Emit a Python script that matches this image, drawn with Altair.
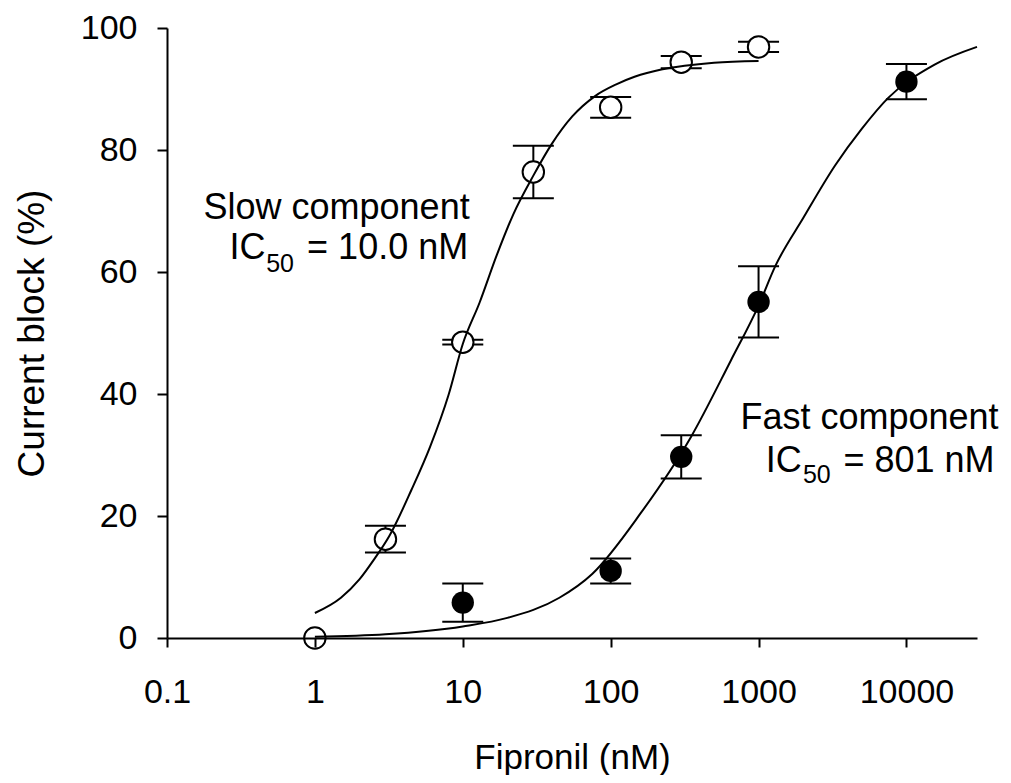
import altair as alt
import pandas as pd

FONT = "Liberation Sans"

# ---- measured data (Fipronil concentration in nM, current block in %) ----
slow_conc = [1, 3, 10, 30, 100, 300, 1000]
slow_block = [0.0, 16.2, 48.5, 76.4, 87.0, 94.4, 96.9]
slow_err = [0.0, 2.2, 0.4, 4.3, 1.7, 1.0, 0.85]

fast_conc = [10, 100, 300, 1000, 10000]
fast_block = [5.8, 11.0, 29.7, 55.1, 91.2]
fast_err = [3.15, 2.05, 3.55, 5.85, 2.9]

# ---- fitted curves ----
slow_curve_x = [1, 1.5, 2, 2.5, 3.2, 4.5, 6, 8, 10, 13, 17, 22, 30, 40, 55, 78,
                110, 145, 220, 316, 500, 1000]
slow_curve_y = [4.1, 6.6, 9.6, 12.8, 16.8, 24.3, 31.3, 39.8, 48.2, 55.0, 62.8, 69.5,
                75.8, 81.0, 85.5, 88.8, 90.8, 92.0, 93.2, 93.8, 94.3, 94.6]

fast_curve_x = [1, 3, 10, 20, 45, 75, 160, 350, 650, 1000, 1300, 2000, 3300, 5000,
                7500, 15500, 30000]
fast_curve_y = [0.2, 0.6, 1.9, 3.3, 6.6, 10.5, 20.5, 33.0, 45.5, 54.5, 61.0, 68.8,
                77.5, 83.5, 88.5, 94.0, 96.9]

# ---- axis ticks ----
x_ticks = [0.1, 1, 10, 100, 1000, 10000]
y_ticks = [0, 20, 40, 60, 80, 100]

# ---- annotations ----
ann_text = ["Slow component", "IC", "= 10.0 nM", "Fast component", "IC", "= 801 nM"]
ann_x = [1.402, 0.3505, 3.104, 5623, 1483, 12160]
ann_y = [68.69, 62.13, 62.13, 34.26, 27.21, 27.21]
sub_text = ["50", "50"]
sub_x = [0.5813, 2477]
sub_y = [60.0, 25.41]

# ---- tables ----
slow_df = pd.DataFrame({"x": slow_conc, "y": slow_block, "e": slow_err})
fast_df = pd.DataFrame({"x": fast_conc, "y": fast_block, "e": fast_err})
pts = pd.concat([slow_df.assign(g="slow"), fast_df.assign(g="fast")], ignore_index=True)
pts["lo"] = pts["y"] - pts["e"]
pts["hi"] = pts["y"] + pts["e"]
bars = pts[pts["e"] > 0]
caps = pd.concat([bars.assign(cy=bars["lo"]), bars.assign(cy=bars["hi"])], ignore_index=True)

slow_line = pd.DataFrame({"x": slow_curve_x, "y": slow_curve_y})
fast_line = pd.DataFrame({"x": fast_curve_x, "y": fast_curve_y})
ann_df = pd.DataFrame({"x": ann_x, "y": ann_y, "t": ann_text})
sub_df = pd.DataFrame({"x": sub_x, "y": sub_y, "t": sub_text})

xscale = alt.Scale(type="log", domain=[0.1, 30000], nice=False)
yscale = alt.Scale(domain=[0, 100], nice=False, zero=False)

x_axis = alt.Axis(
    values=x_ticks, format="~g", tickSize=9, labelPadding=28, labelFlush=False,
    labelOverlap=False, titleBaseline="alphabetic", titleY=130, zindex=1,
)
y_axis = alt.Axis(
    values=y_ticks, tickSize=10, labelPadding=20, labelFlush=False,
    titleBaseline="alphabetic", titleX=-124, titleFontSize=37, zindex=1,
)

X = alt.X("x:Q", scale=xscale, axis=x_axis, title="Fipronil (nM)")
Y = alt.Y("y:Q", scale=yscale, axis=y_axis, title="Current block (%)")

err_rules = alt.Chart(bars).mark_rule(color="black", strokeWidth=2).encode(
    x=X, y=alt.Y("lo:Q", scale=yscale, axis=y_axis, title="Current block (%)"), y2="hi:Q"
)
err_caps = alt.Chart(caps).mark_tick(
    orient="horizontal", size=41, thickness=2, color="black", opacity=1
).encode(x=X, y=alt.Y("cy:Q", scale=yscale, axis=y_axis, title="Current block (%)"))

open_pts = alt.Chart(slow_df).mark_circle(
    size=460, fill="white", stroke="black", strokeWidth=2, opacity=1, fillOpacity=1
).encode(x=X, y=Y)
filled_pts = alt.Chart(fast_df).mark_circle(
    size=500, color="black", opacity=1
).encode(x=X, y=Y)

slow_curve = alt.Chart(slow_line).mark_line(
    color="black", strokeWidth=2, interpolate="monotone"
).encode(x=X, y=Y)
fast_curve = alt.Chart(fast_line).mark_line(
    color="black", strokeWidth=2, interpolate="monotone"
).encode(x=X, y=Y)

ann = alt.Chart(ann_df).mark_text(
    font=FONT, fontSize=36, align="center", baseline="alphabetic", color="black"
).encode(x=X, y=Y, text="t:N")
sub = alt.Chart(sub_df).mark_text(
    font=FONT, fontSize=25, align="center", baseline="alphabetic", color="black"
).encode(x=X, y=Y, text="t:N")

chart = alt.layer(
    err_rules, err_caps, open_pts, filled_pts, slow_curve, fast_curve, ann, sub
).properties(
    width=810, height=610,
    autosize=alt.AutoSizeParams(type="none"),
    padding={"left": 159, "top": 20, "right": 26, "bottom": 137},
    background="white",
).configure_axis(
    domainColor="black", domainWidth=2, tickColor="black", tickWidth=2,
    labelColor="black", titleColor="black", labelFont=FONT, titleFont=FONT,
    labelFontSize=34, titleFontSize=35, titleFontWeight="normal", grid=False,
).configure_view(strokeWidth=0)

chart.save("out.html", embed_options={"renderer": "svg", "actions": False})
